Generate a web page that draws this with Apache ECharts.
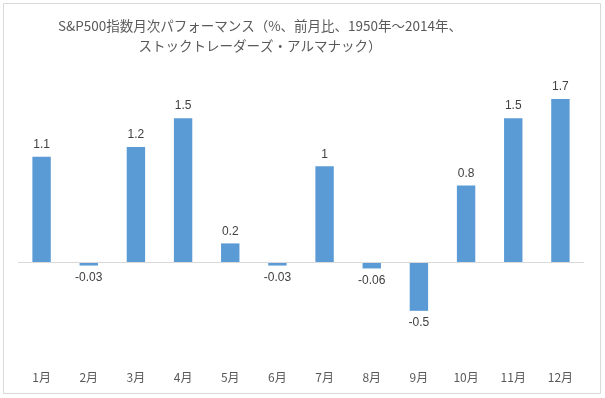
<!DOCTYPE html>
<html>
<head>
<meta charset="utf-8">
<script src="https://cdn.jsdelivr.net/npm/echarts@6/dist/echarts.min.js"></script>
<style>html,body{margin:0;padding:0;background:#fff}#c{width:605px;height:398px}</style>
</head>
<body>
<div id="c"></div>
<script>
const categories = ['1月','2月','3月','4月','5月','6月','7月','8月','9月','10月','11月','12月'];
const values = [1.1, -0.03, 1.2, 1.5, 0.2, -0.03, 1, -0.06, -0.5, 0.8, 1.5, 1.7];
const titleText = 'S&P500指数月次パフォーマンス（%、前月比、1950年～2014年、\nストックトレーダーズ・アルマナック）';

const chart = echarts.init(document.getElementById('c'), null, {renderer: 'canvas'});
chart.setOption({
  backgroundColor: '#ffffff',
  animation: false,
  title: {
    text: titleText,
    left: 255,
    top: 11,
    textAlign: 'center',
    textStyle: {
      fontFamily: 'Noto Sans CJK JP',
      fontSize: 13.5,
      fontWeight: 'normal',
      color: '#595959',
      lineHeight: 20
    }
  },
  graphic: [{
    type: 'rect',
    shape: {x: 3.5, y: 3.5, width: 597, height: 390},
    style: {fill: 'none', stroke: '#d9d9d9', lineWidth: 1},
    z: -1,
    silent: true
  }],
  grid: {left: 18, top: 70, width: 566, height: 289, containLabel: false},
  xAxis: {
    type: 'category',
    data: categories,
    axisLine: {show: false, onZero: false},
    axisTick: {show: false},
    axisLabel: {
      margin: 12,
      fontFamily: 'Noto Sans CJK JP',
      fontSize: 12,
      color: '#595959'
    }
  },
  yAxis: {
    type: 'value',
    min: -1,
    max: 2,
    show: false
  },
  series: [{
    type: 'bar',
    barWidth: '39%',
    data: values.map(v => ({
      value: v,
      label: {position: v < 0 ? 'bottom' : 'top'}
    })),
    itemStyle: {color: '#5b9bd5'},
    label: {
      show: true,
      distance: 6,
      fontFamily: 'Liberation Sans',
      fontSize: 12,
      color: '#404040'
    },
    markLine: {
      silent: true,
      symbol: 'none',
      label: {show: false},
      lineStyle: {color: '#d9d9d9', width: 1, type: 'solid'},
      data: [{yAxis: 0}]
    }
  }]
});
</script>
</body>
</html>
